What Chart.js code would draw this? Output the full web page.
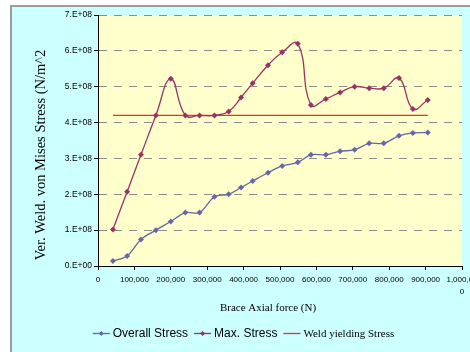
<!DOCTYPE html>
<html>
<head>
<meta charset="utf-8">
<script src="https://cdn.jsdelivr.net/npm/chart.js@4/dist/chart.umd.min.js"></script>
<style>
  html, body { margin: 0; padding: 0; background: #ffffff; }
  #wrap { width: 470px; height: 352px; }
</style>
</head>
<body>
<div id="wrap"><canvas id="chart" width="470" height="352"></canvas></div>
<script>
// Brace axial force at each load step (N)
const axialForce = [41000, 80000, 118000, 159000, 200000, 240000, 279000, 320000, 359000,
  393000, 425000, 467000, 506000, 549000, 585000, 626000, 665000, 705000, 745000,
  785000, 827000, 865000, 906000];

// Overall weld stress (N/m^2)
const overallStress = [0.14e8, 0.28e8, 0.74e8, 1.00e8, 1.24e8, 1.49e8, 1.49e8, 1.93e8, 2.00e8,
  2.19e8, 2.37e8, 2.60e8, 2.79e8, 2.89e8, 3.10e8, 3.10e8, 3.20e8, 3.24e8, 3.42e8,
  3.42e8, 3.63e8, 3.71e8, 3.72e8];

// Maximum weld stress (N/m^2)
const maxStress = [1.02e8, 2.07e8, 3.10e8, 4.20e8, 5.22e8, 4.20e8, 4.20e8, 4.20e8, 4.31e8,
  4.70e8, 5.10e8, 5.60e8, 5.96e8, 6.20e8, 4.49e8, 4.66e8, 4.84e8, 5.00e8, 4.96e8,
  4.96e8, 5.24e8, 4.38e8, 4.63e8];

// Weld yielding stress, a constant limit across the force range
const weldForce = [41000, 906000];
const weldStress = [4.2e8, 4.2e8];

const seriesNames = ['Overall Stress', 'Max. Stress', 'Weld yielding Stress'];
const yTickLabels = ['0.E+00', '1.E+08', '2.E+08', '3.E+08', '4.E+08', '5.E+08', '6.E+08', '7.E+08'];
const xTickLabels = ['0', '100,000', '200,000', '300,000', '400,000', '500,000',
  '600,000', '700,000', '800,000', '900,000', ['1,000,00', '0']];
const yTitle = 'Ver. Weld. von Mises Stress (N/m^2';
const xTitle = 'Brace Axial force (N)';

const SANS = '"Liberation Sans", Arial, sans-serif';
const SERIF = '"Liberation Serif", "Times New Roman", serif';

const toPoints = (xs, ys) => xs.map((x, i) => ({ x: x, y: ys[i] }));

// Sheet background, frame and plot-area fill
const backdrop = {
  id: 'backdrop',
  beforeDraw(chart) {
    const { ctx, chartArea: a, width, height } = chart;
    ctx.save();
    ctx.fillStyle = '#ffffff';
    ctx.fillRect(0, 0, width, height);
    ctx.fillStyle = '#ccffff';
    ctx.fillRect(12, 7, width - 12, height - 7);
    ctx.fillStyle = '#9c9c9c';
    ctx.fillRect(10, 5, width - 10, 2);
    ctx.fillRect(10, 5, 2, height - 5);
    ctx.fillStyle = '#ffffcc';
    ctx.fillRect(a.left, a.top, a.right - a.left, a.bottom - a.top);
    ctx.restore();
  }
};

// Axis titles and the legend row beneath the chart
const legendFonts = ['12px ' + SANS, '12px ' + SANS, '11px ' + SERIF];
const captions = {
  id: 'captions',
  afterDraw(chart) {
    const ctx = chart.ctx;
    ctx.save();
    ctx.fillStyle = '#000000';

    // vertical title
    ctx.save();
    ctx.translate(45, 155);
    ctx.rotate(-Math.PI / 2);
    ctx.font = '14.5px ' + SERIF;
    ctx.textAlign = 'center';
    ctx.textBaseline = 'alphabetic';
    ctx.fillText(yTitle, 0, 0);
    ctx.restore();

    // horizontal title
    ctx.font = '11px ' + SERIF;
    ctx.textAlign = 'center';
    ctx.textBaseline = 'middle';
    ctx.fillText(xTitle, 268, 308);

    // legend
    const sample = 17, gapText = 3, gapItem = 6, y = 333;
    const sets = chart.data.datasets;
    const widths = sets.map((ds, i) => {
      ctx.font = legendFonts[i];
      return sample + gapText + ctx.measureText(ds.label).width;
    });
    const total = widths.reduce((s, w) => s + w, 0) + gapItem * (sets.length - 1);
    let x = 243.5 - total / 2;
    sets.forEach((ds, i) => {
      ctx.strokeStyle = ds.borderColor;
      ctx.lineWidth = 1.3;
      ctx.beginPath();
      ctx.moveTo(x, y + 0.5);
      ctx.lineTo(x + sample, y + 0.5);
      ctx.stroke();
      if (ds.pointRadius > 0) {
        const cx = x + sample / 2, r = 2.6;
        ctx.fillStyle = ds.borderColor;
        ctx.beginPath();
        ctx.moveTo(cx, y + 0.5 - r);
        ctx.lineTo(cx + r, y + 0.5);
        ctx.lineTo(cx, y + 0.5 + r);
        ctx.lineTo(cx - r, y + 0.5);
        ctx.closePath();
        ctx.fill();
      }
      ctx.fillStyle = '#000000';
      ctx.font = legendFonts[i];
      ctx.textAlign = 'left';
      ctx.textBaseline = 'middle';
      ctx.fillText(ds.label, x + sample + gapText, y + 1);
      x += widths[i] + gapItem;
    });
    ctx.restore();
  }
};

new Chart(document.getElementById('chart'), {
  type: 'line',
  data: {
    datasets: [
      {
        label: seriesNames[0],
        data: toPoints(axialForce, overallStress),
        borderColor: '#6666aa',
        backgroundColor: '#6666aa',
        borderWidth: 1.3,
        tension: 0.35,
        pointStyle: 'rectRot',
        pointRadius: 3,
        pointBorderWidth: 0,
        fill: false
      },
      {
        label: seriesNames[1],
        data: toPoints(axialForce, maxStress),
        borderColor: '#993366',
        backgroundColor: '#993366',
        borderWidth: 1.3,
        tension: 0.45,
        pointStyle: 'rectRot',
        pointRadius: 3,
        pointBorderWidth: 0,
        fill: false
      },
      {
        label: seriesNames[2],
        data: toPoints(weldForce, weldStress),
        borderColor: '#ff2626',
        backgroundColor: '#ff2626',
        borderWidth: 1.4,
        tension: 0,
        pointRadius: 0,
        fill: false
      }
    ]
  },
  options: {
    responsive: false,
    animation: false,
    devicePixelRatio: 1,
    layout: { padding: { left: 0, top: 15, right: 8, bottom: 0 } },
    plugins: {
      legend: { display: false },
      tooltip: { enabled: false },
      title: { display: false }
    },
    scales: {
      x: {
        type: 'linear',
        min: 0,
        max: 1000000,
        afterFit(scale) {
          scale.height = 86;
          scale.paddingLeft = 0;
          scale.paddingRight = 0;
        },
        ticks: {
          stepSize: 100000,
          autoSkip: false,
          maxRotation: 0,
          minRotation: 0,
          padding: 4,
          color: '#000000',
          font: { family: SANS, size: 8, lineHeight: 1.45 },
          callback: (v, i) => xTickLabels[i]
        },
        grid: {
          drawOnChartArea: false,
          drawTicks: true,
          tickLength: 4,
          tickColor: '#000000',
          tickWidth: 1
        },
        border: { color: '#000000', width: 1 }
      },
      y: {
        type: 'linear',
        min: 0,
        max: 7e8,
        afterFit(scale) {
          scale.width = 98;
          scale.paddingTop = 0;
          scale.paddingBottom = 0;
        },
        ticks: {
          stepSize: 1e8,
          padding: 2,
          color: '#000000',
          font: { family: SANS, size: 8.5 },
          callback: (v, i) => yTickLabels[i]
        },
        grid: {
          color: c => (c.tick && c.tick.value === 0) ? 'rgba(0,0,0,0)' : '#8c8c8c',
          lineWidth: 1,
          tickLength: 4,
          tickColor: '#000000',
          tickWidth: 1
        },
        border: { color: '#000000', width: 1, dash: [8, 7] }
      }
    }
  },
  plugins: [backdrop, captions]
});
</script>
</body>
</html>
